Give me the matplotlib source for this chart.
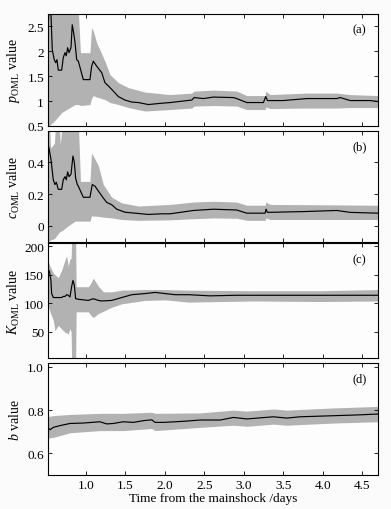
import matplotlib
matplotlib.use("Agg")
import matplotlib.pyplot as plt
import numpy as np

plt.rcParams['font.family'] = ['Liberation Serif', 'DejaVu Serif']
plt.rcParams['mathtext.fontset'] = 'custom'
plt.rcParams['mathtext.rm'] = 'Liberation Serif'
plt.rcParams['mathtext.it'] = 'Liberation Serif:italic'

# ---- panel (a): p_OML ----
t_p = [0.515, 0.53, 0.555, 0.573, 0.598, 0.616, 0.632, 0.649, 0.692, 0.712, 0.734, 0.75,
       0.768, 0.785, 0.81, 0.826, 0.844, 0.861, 0.882, 0.903, 0.966, 1.05, 1.072, 1.093,
       1.135, 1.199, 1.24, 1.304, 1.346, 1.41, 1.494, 1.58, 1.663, 1.79, 1.916, 2.065,
       2.23, 2.34, 2.37, 2.487, 2.614, 2.867, 2.909, 3.036, 3.247, 3.277, 3.298, 3.50,
       3.797, 4.177, 4.22, 4.346, 4.60, 4.70]
p_mean = [2.23, 2.8, 2.8, 2.03, 1.83, 1.77, 1.83, 1.62, 1.62, 1.87, 1.97, 1.91,
          2.07, 1.97, 2.07, 2.53, 2.37, 2.17, 1.83, 1.80, 1.43, 1.43, 1.70, 1.80,
          1.70, 1.57, 1.37, 1.27, 1.20, 1.09, 1.02, 0.98, 0.97, 0.93, 0.95, 0.97,
          1.00, 1.02, 1.07, 1.05, 1.08, 1.07, 1.05, 0.97, 0.97, 1.09, 1.01, 1.01,
          1.05, 1.05, 1.07, 1.01, 1.01, 0.99]
tb_p = [0.50, 0.544, 0.60, 0.692, 0.861, 0.903, 0.93, 1.05, 1.07, 1.093, 1.135, 1.24,
        1.304, 1.41, 1.537, 1.748, 2.065, 2.34, 2.37, 2.614, 2.909, 3.036, 3.268, 3.277,
        3.332, 3.797, 4.177, 4.346, 4.70]
p_lo = [0.45, 0.52, 0.60, 0.77, 0.93, 0.93, 0.91, 0.93, 1.05, 1.11, 1.08, 1.03,
        0.97, 0.93, 0.87, 0.80, 0.83, 0.86, 0.90, 0.91, 0.90, 0.83, 0.83, 0.88,
        0.85, 0.86, 0.86, 0.87, 0.87]
p_hi = [2.8, 2.8, 2.8, 2.8, 2.8, 2.8, 1.97, 1.97, 2.47, 2.40, 2.17, 1.80,
        1.53, 1.37, 1.27, 1.18, 1.13, 1.16, 1.20, 1.22, 1.20, 1.11, 1.11, 1.20,
        1.13, 1.16, 1.16, 1.13, 1.11]

# ---- panel (b): c_OML ----
t_c = [0.502, 0.522, 0.535, 0.556, 0.586, 0.607, 0.624, 0.649, 0.692, 0.712, 0.734, 0.75,
       0.768, 0.785, 0.81, 0.835, 0.852, 0.869, 0.89, 0.903, 0.966, 1.05, 1.08, 1.114,
       1.156, 1.22, 1.262, 1.326, 1.389, 1.494, 1.62, 1.79, 1.96, 2.065, 2.36, 2.614,
       2.909, 3.036, 3.268, 3.281, 3.298, 3.755, 4.177, 4.346, 4.70]
c_mean = [0.40, 0.51, 0.48, 0.42, 0.29, 0.26, 0.275, 0.23, 0.23, 0.29, 0.31, 0.29,
          0.34, 0.31, 0.325, 0.44, 0.40, 0.30, 0.26, 0.25, 0.18, 0.18, 0.26, 0.25,
          0.22, 0.175, 0.148, 0.133, 0.105, 0.086, 0.08, 0.072, 0.076, 0.076, 0.097, 0.105,
          0.10, 0.08, 0.08, 0.105, 0.085, 0.09, 0.097, 0.085, 0.08]
tb_c = [0.50, 0.54, 0.55, 0.60, 0.616, 0.66, 0.675, 0.70, 0.734, 0.861, 0.903, 0.93,
        1.05, 1.07, 1.156, 1.22, 1.326, 1.452, 1.663, 2.065, 2.36, 2.614, 2.909, 3.036,
        3.268, 3.281, 3.332, 4.70]
c_lo = [-0.12, -0.09, -0.09, -0.08, -0.07, -0.04, -0.035, -0.03, -0.015, 0.03, 0.03, 0.03,
        0.03, 0.063, 0.06, 0.055, 0.05, 0.04, 0.035, 0.038, 0.045, 0.05, 0.048, 0.035,
        0.035, 0.05, 0.04, 0.04]
c_hi = [0.65, 0.65, 0.49, 0.52, 0.65, 0.65, 0.51, 0.65, 0.65, 0.65, 0.65, 0.28,
        0.28, 0.46, 0.38, 0.26, 0.18, 0.145, 0.125, 0.135, 0.15, 0.155, 0.15, 0.13,
        0.13, 0.15, 0.135, 0.13]

# ---- panel (c): K_OML ----
t_k = [0.502, 0.522, 0.535, 0.556, 0.565, 0.586, 0.649, 0.692, 0.712, 0.734, 0.755, 0.776,
       0.797, 0.818, 0.835, 0.852, 0.869, 0.903, 1.03, 1.093, 1.156, 1.199, 1.326, 1.452,
       1.58, 1.748, 1.875, 2.0, 2.13, 2.30, 2.57, 2.909, 3.332, 3.966, 4.70]
k_mean = [117, 155, 157, 140, 117, 110, 110, 110, 112, 112, 115, 114,
          111, 129, 140, 132, 108, 107, 105, 108, 105, 104, 105, 110,
          115, 117, 119, 117, 115, 115, 113, 114, 114, 114, 114]
tb_k = [0.50, 0.518, 0.522, 0.544, 0.586, 0.607, 0.649, 0.692, 0.734, 0.755, 0.776, 0.797,
        0.812, 0.818, 0.869, 0.875, 1.03, 1.06, 1.093, 1.156, 1.22, 1.326, 1.452, 1.748,
        2.0, 2.30, 3.12, 3.966, 4.70]
k_lo = [0, 0, 95, 85, 70, 52, 61, 55, 49, 48, 46, 55,
        50, 0, 0, 85, 85, 79, 75, 82, 86, 93, 99, 105,
        106, 102, 104, 103, 104]
k_hi = [210, 210, 175, 165, 153, 150, 145, 158, 176, 183, 165, 178,
        178, 210, 210, 129, 129, 135, 144, 130, 120, 120, 123, 124,
        124, 123, 122, 122, 124]

# ---- panel (d): b value ----
t_b = [0.515, 0.544, 0.586, 0.67, 0.797, 0.966, 1.177, 1.262, 1.346, 1.473, 1.6, 1.726,
       1.833, 1.875, 1.98, 2.233, 2.445, 2.70, 2.867, 3.037, 3.374, 3.544, 3.71, 4.134,
       4.47, 4.70]
b_mean = [0.72, 0.709, 0.72, 0.728, 0.738, 0.74, 0.746, 0.736, 0.738, 0.746, 0.743, 0.751,
          0.755, 0.743, 0.743, 0.748, 0.754, 0.754, 0.766, 0.759, 0.769, 0.763, 0.769, 0.774,
          0.778, 0.782]
tb_b = [0.515, 0.60, 0.80, 1.177, 1.473, 1.833, 1.875, 2.445, 2.867, 3.037, 3.374, 3.544,
        4.134, 4.70]
b_lo = [0.67, 0.675, 0.695, 0.705, 0.705, 0.715, 0.705, 0.72, 0.73, 0.725, 0.735, 0.73,
        0.74, 0.746]
b_hi = [0.77, 0.775, 0.78, 0.785, 0.785, 0.79, 0.785, 0.787, 0.80, 0.795, 0.805, 0.80,
        0.81, 0.817]

panels = [
    (t_p, p_mean, tb_p, p_lo, p_hi, (0.5, 2.75), [0.5, 1, 1.5, 2, 2.5],
     ['0.5', '1', '1.5', '2', '2.5'], r'$p_{\mathrm{OML}}$ value', '(a)'),
    (t_c, c_mean, tb_c, c_lo, c_hi, (-0.1, 0.6), [0, 0.2, 0.4],
     ['0', '0.2', '0.4'], r'$c_{\mathrm{OML}}$ value', '(b)'),
    (t_k, k_mean, tb_k, k_lo, k_hi, (4, 206), [50, 100, 150, 200],
     ['50', '100', '150', '200'], r'$K_{\mathrm{OML}}$ value', '(c)'),
    (t_b, b_mean, tb_b, b_lo, b_hi, (0.5, 1.02), [0.6, 0.8, 1.0],
     ['0.6', '0.8', '1.0'], r'$b$ value', '(d)'),
]

# axes rectangles [left, bottom, width, height] in figure fraction
rects = [
    [0.123, 0.751, 0.844, 0.220],
    [0.123, 0.524, 0.844, 0.218],
    [0.123, 0.296, 0.844, 0.226],
    [0.123, 0.067, 0.844, 0.220],
]

fig = plt.figure(figsize=(3.91, 5.10), dpi=100)
fig.patch.set_facecolor('#fbfbfb')

xticks = [1.0, 1.5, 2.0, 2.5, 3.0, 3.5, 4.0, 4.5]

for i, (t, m, tb, lo, hi, ylim, yt, ytl, ylab, tag) in enumerate(panels):
    ax = fig.add_axes(rects[i])
    ax.set_facecolor('#fdfdfd')
    ax.fill_between(tb, lo, hi, color='#b2b2b2', linewidth=0)
    ax.plot(t, m, color='black', linewidth=0.85)
    ax.set_xlim(0.52, 4.70)
    ax.set_ylim(*ylim)
    ax.set_yticks(yt)
    ax.set_yticklabels(ytl)
    ax.set_xticks(xticks)
    if i == 3:
        ax.set_xticklabels(['%.1f' % v for v in xticks])
        ax.set_xlabel('Time from the mainshock /days', fontsize=9.5, labelpad=1)
    else:
        ax.set_xticklabels([])
    ax.tick_params(direction='in', top=True, right=True, length=3,
                   width=0.6, labelsize=9.5, pad=3)
    for s in ax.spines.values():
        s.set_linewidth(0.8)
    ax.set_ylabel(ylab, fontsize=10)
    ax.yaxis.set_label_coords(-0.078, 0.5)
    ax.text(0.965, 0.86, tag, transform=ax.transAxes, ha='right', va='center',
            fontsize=9)

fig.savefig('out.png', dpi=100, facecolor=fig.get_facecolor())
